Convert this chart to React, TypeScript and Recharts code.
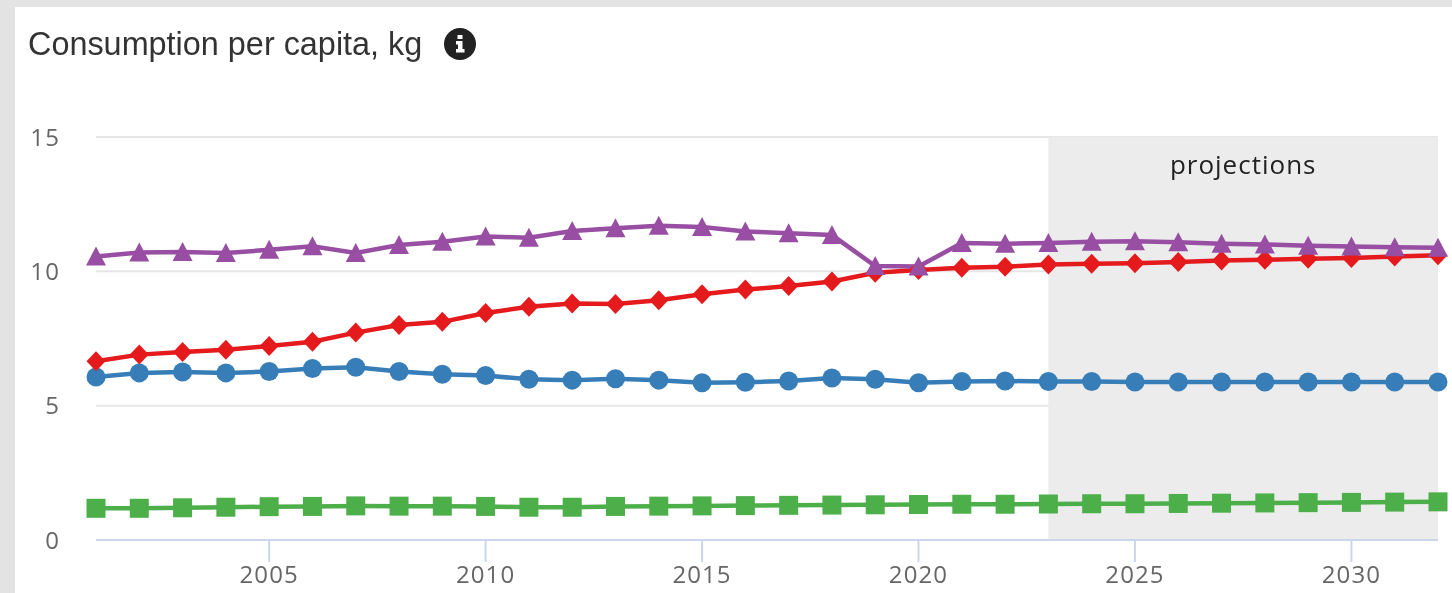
import { LineChart, Line, XAxis, YAxis, CartesianGrid, ReferenceArea } from "recharts"

const years = [2001, 2002, 2003, 2004, 2005, 2006, 2007, 2008, 2009, 2010, 2011, 2012, 2013, 2014, 2015, 2016, 2017, 2018, 2019, 2020, 2021, 2022, 2023, 2024, 2025, 2026, 2027, 2028, 2029, 2030, 2031, 2032]
const sheep = [10.55, 10.7, 10.72, 10.68, 10.8, 10.93, 10.68, 10.98, 11.1, 11.3, 11.25, 11.5, 11.6, 11.7, 11.65, 11.48, 11.42, 11.35, 10.2, 10.18, 11.05, 11.03, 11.05, 11.1, 11.12, 11.08, 11.03, 11, 10.95, 10.92, 10.9, 10.88]
const poultry = [6.65, 6.9, 7, 7.08, 7.22, 7.38, 7.72, 8, 8.12, 8.45, 8.68, 8.8, 8.78, 8.92, 9.15, 9.32, 9.45, 9.62, 9.95, 10.05, 10.13, 10.17, 10.25, 10.28, 10.3, 10.35, 10.4, 10.43, 10.47, 10.5, 10.55, 10.6]
const beef = [6.07, 6.22, 6.25, 6.22, 6.27, 6.38, 6.43, 6.27, 6.17, 6.12, 5.98, 5.95, 6, 5.95, 5.85, 5.87, 5.92, 6.03, 5.98, 5.85, 5.9, 5.92, 5.9, 5.9, 5.88, 5.88, 5.88, 5.88, 5.88, 5.88, 5.88, 5.88]
const pork = [1.18, 1.18, 1.2, 1.22, 1.24, 1.25, 1.27, 1.26, 1.26, 1.25, 1.22, 1.22, 1.25, 1.26, 1.27, 1.28, 1.29, 1.3, 1.31, 1.32, 1.33, 1.33, 1.34, 1.35, 1.35, 1.36, 1.37, 1.38, 1.39, 1.4, 1.41, 1.42]
const xTicks = [2005, 2010, 2015, 2020, 2025, 2030]
const yTicks = [0, 5, 10, 15]

const chartData = years.map((year, i) => ({ year, sheep: sheep[i], poultry: poultry[i], beef: beef[i], pork: pork[i] }))

const tickStyle = { fontFamily: "Open Sans", fontSize: 24, fill: "#666666", letterSpacing: 1.1 }

const Square = ({ cx, cy, key }: any) => <rect key={key} x={cx - 9.5} y={cy - 9.5} width={19} height={19} fill="#4daf4a" />
const Circle = ({ cx, cy, key }: any) => <circle key={key} cx={cx} cy={cy} r={9.5} fill="#377eb8" />
const Diamond = ({ cx, cy, key }: any) => <path key={key} d={`M${cx} ${cy - 10}L${cx + 9.5} ${cy}L${cx} ${cy + 10}L${cx - 9.5} ${cy}Z`} fill="#e41a1c" />
const Triangle = ({ cx, cy, key }: any) => <path key={key} d={`M${cx} ${cy - 10}L${cx + 10} ${cy + 9}L${cx - 10} ${cy + 9}Z`} fill="#984ea3" />

export default function App() {
  return (
    <div style={{ position: "fixed", left: 0, top: 0, width: 1452, height: 593, background: "#e3e3e3", overflow: "hidden" }}>
      <div style={{ position: "absolute", left: 15, top: 7, width: 1437, height: 586, background: "#ffffff" }} />
      <div style={{ position: "absolute", left: 0, top: 0, width: 1452, height: 593, filter: "blur(0.5px)" }}>
        <div style={{ position: "absolute", left: 28, top: 25, fontFamily: "Liberation Sans", fontSize: 32.4, lineHeight: "38px", color: "#333333", whiteSpace: "nowrap" }}>
          Consumption per capita, kg
        </div>
        <svg style={{ position: "absolute", left: 444, top: 28 }} width={32} height={32} viewBox="0 0 32 32">
          <circle cx={16} cy={16} r={16} fill="#222222" />
          <rect x={13.5} y={7} width={5} height={4} fill="#ffffff" />
          <path d="M12 13h6.5v8h2v3.5h-8.5v-3.5h2v-4.5h-2z" fill="#ffffff" />
        </svg>
        <div style={{ position: "absolute", left: 0, top: 0 }}>
          <LineChart width={1452} height={593} data={chartData} margin={{ top: 137, right: 14, bottom: 0, left: 0 }}>
            <ReferenceArea
              x1={2023}
              x2={2032}
              y1={0}
              y2={15}
              fill="#ececec"
              fillOpacity={1}
              stroke="none"
              label={{ value: "projections", position: "insideTop", offset: 19, fontFamily: "Open Sans", fontSize: 26, fill: "#222222", letterSpacing: 1 }}
            />
            <CartesianGrid horizontal vertical={false} stroke="#e6e6e6" strokeWidth={2} />
            <XAxis
              dataKey="year"
              type="number"
              domain={[2001, 2032]}
              ticks={xTicks}
              height={53}
              tickSize={22}
              tickMargin={4}
              tick={tickStyle}
              stroke="#ccd6eb"
              strokeWidth={2}
              interval={0}
            />
            <YAxis
              type="number"
              domain={[0, 15]}
              ticks={yTicks}
              width={96}
              axisLine={false}
              tickLine={false}
              tickSize={0}
              tickMargin={36}
              tick={tickStyle}
            />
            <Line dataKey="pork" stroke="#4daf4a" strokeWidth={4.5} dot={Square} isAnimationActive={false} />
            <Line dataKey="beef" stroke="#377eb8" strokeWidth={4.5} dot={Circle} isAnimationActive={false} />
            <Line dataKey="poultry" stroke="#e41a1c" strokeWidth={4.5} dot={Diamond} isAnimationActive={false} />
            <Line dataKey="sheep" stroke="#984ea3" strokeWidth={4.5} dot={Triangle} isAnimationActive={false} />
          </LineChart>
        </div>
      </div>
    </div>
  )
}
